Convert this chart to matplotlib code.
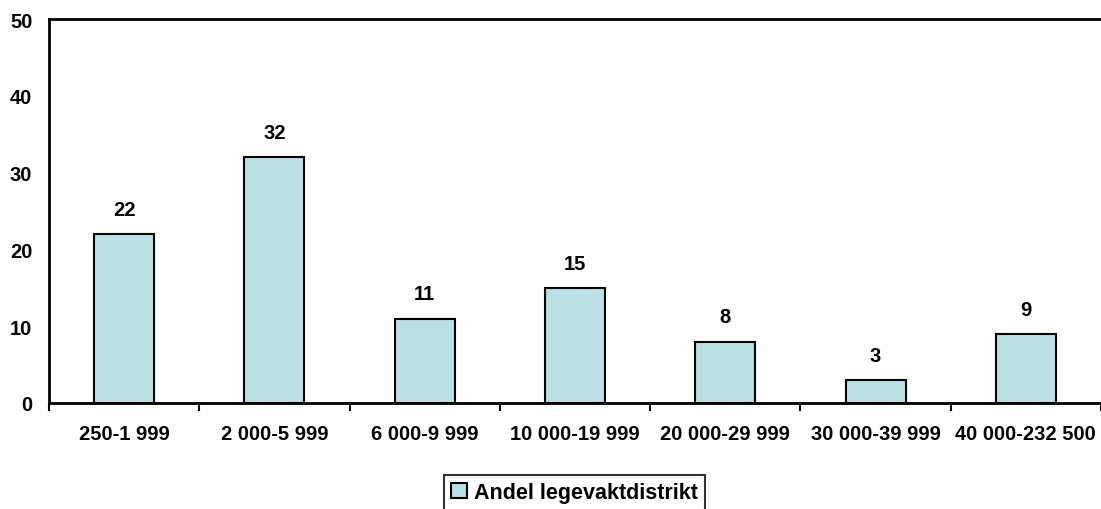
import matplotlib
matplotlib.use("Agg")
from matplotlib import pyplot as plt
import numpy as np

# data
categories = ["250-1 999", "2 000-5 999", "6 000-9 999", "10 000-19 999",
              "20 000-29 999", "30 000-39 999", "40 000-232 500"]
values = [22, 32, 11, 15, 8, 3, 9]
series_name = "Andel legevaktdistrikt"

plt.rcParams['font.family'] = ['Liberation Sans', 'DejaVu Sans']
plt.rcParams['font.weight'] = 'bold'

fig = plt.figure(figsize=(11.01, 5.10), dpi=100)
ax = fig.add_axes([49/1101, 1 - 404/510, 1 - 49/1101, (404 - 20)/510])

x = np.arange(len(categories))
bars = ax.bar(x, values, width=0.4, color="#bbe0e3", edgecolor="black",
              linewidth=1.5, label=series_name, zorder=3)

for xi, v in zip(x, values):
    ax.annotate(str(v), (xi, v), xytext=(0, 11), textcoords="offset points",
                ha="center", va="bottom", fontsize=14.5, fontweight="bold")

ax.set_xlim(-0.5, len(categories) - 0.5)
ax.set_ylim(0, 50)
ax.set_yticks([0, 10, 20, 30, 40, 50])
ax.tick_params(axis='y', length=0, labelsize=14.5, pad=12)

# category ticks sit between the groups, labels in the middle
ax.set_xticks(np.arange(len(categories) + 1) - 0.5)
ax.set_xticklabels([])
ax.set_xticks(x, minor=True)
ax.set_xticklabels(categories, minor=True, fontsize=14.5, fontweight="bold")
ax.tick_params(axis='x', which='major', length=6, width=1.5, direction='out')
ax.tick_params(axis='x', which='minor', length=0, pad=15)

for s in ["left", "bottom", "top"]:
    ax.spines[s].set_linewidth(2)
ax.spines["right"].set_visible(False)

leg = fig.legend(loc="lower center", bbox_to_anchor=(0.522, -0.025), frameon=True,
                 fancybox=False, edgecolor="black", fontsize=15.5,
                 handlelength=0.7, handleheight=0.7, handletextpad=0.35,
                 borderpad=0.35)
leg.get_frame().set_linewidth(1.5)
for t in leg.get_texts():
    t.set_fontweight("bold")

fig.savefig("out.png", dpi=100)
